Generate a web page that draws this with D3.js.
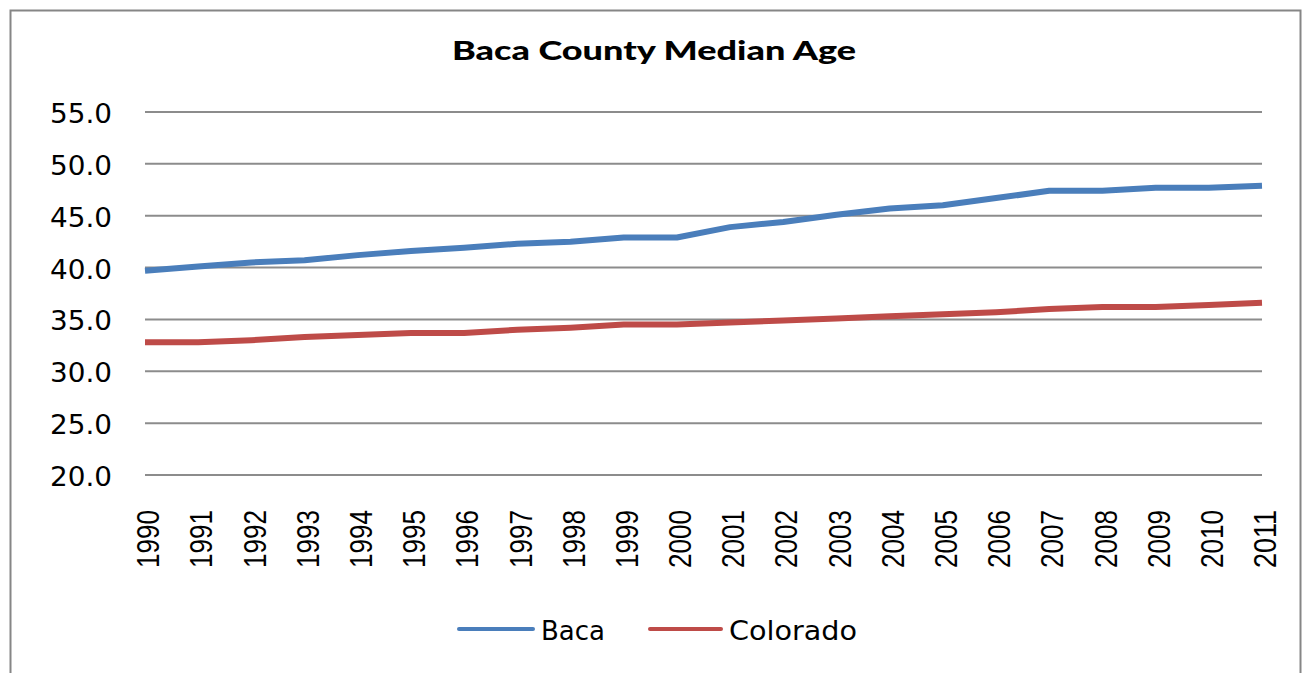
<!DOCTYPE html>
<html>
<head>
<meta charset="utf-8">
<script src="https://cdn.jsdelivr.net/npm/d3@7"></script>
<style>
  body { margin: 0; background: #fff; }
  svg { display: block; }
</style>
</head>
<body>
<script>
const years = ["1990","1991","1992","1993","1994","1995","1996","1997","1998","1999","2000",
               "2001","2002","2003","2004","2005","2006","2007","2008","2009","2010","2011"];
const baca = [39.7, 40.1, 40.5, 40.7, 41.2, 41.6, 41.9, 42.3, 42.5, 42.9, 42.9,
              43.9, 44.4, 45.1, 45.7, 46.0, 46.7, 47.4, 47.4, 47.7, 47.7, 47.9];
const colorado = [32.8, 32.8, 33.0, 33.3, 33.5, 33.7, 33.7, 34.0, 34.2, 34.5, 34.5,
                  34.7, 34.9, 35.1, 35.3, 35.5, 35.7, 36.0, 36.2, 36.2, 36.4, 36.6];
const yTicks = [20, 25, 30, 35, 40, 45, 50, 55];
const seriesNames = ["Baca", "Colorado"];

const w = 1305, h = 673;
const margin = ({top: 112, right: 43, bottom: 198, left: 145});

const svg = d3.select("body")
    .append("svg")
    .attr("width", w)
    .attr("height", h);

// outer chart border
svg.append("rect")
    .attr("x", 10.5)
    .attr("y", 10.5)
    .attr("width", 1290)
    .attr("height", 720)
    .attr("fill", "none")
    .attr("stroke", "#868686")
    .attr("stroke-width", 2);

let x = d3.scalePoint()
    .domain(years)
    .range([margin.left, w - margin.right]);

let y = d3.scaleLinear()
    .domain([20, 55])
    .range([h - margin.bottom, margin.top]);

// gridlines
svg.append("g")
    .selectAll("line")
    .data(yTicks)
    .enter().append("line")
    .attr("x1", margin.left)
    .attr("x2", w - margin.right)
    .attr("y1", d => y(d))
    .attr("y2", d => y(d))
    .attr("stroke", "#8c8c8c")
    .attr("stroke-width", 2);

// y labels
svg.append("g")
    .selectAll("text")
    .data(yTicks)
    .enter().append("text")
    .attr("x", 112)
    .attr("y", d => y(d) + 11)
    .attr("text-anchor", "end")
    .attr("font-family", "DejaVu Sans")
    .attr("font-size", 27)
    .attr("fill", "#000")
    .attr("textLength", 62)
    .attr("lengthAdjust", "spacingAndGlyphs")
    .text(d => d3.format(".1f")(d));

// x labels (rotated)
svg.append("g")
    .selectAll("text")
    .data(years)
    .enter().append("text")
    .attr("transform", d => `translate(${x(d) + 3}, 510) rotate(-90)`)
    .attr("text-anchor", "end")
    .attr("dy", "0.36em")
    .attr("font-family", "Liberation Sans")
    .attr("font-size", 31)
    .attr("fill", "#000")
    .attr("textLength", 58)
    .attr("lengthAdjust", "spacingAndGlyphs")
    .text(d => d);

let line = d3.line()
    .x((d, i) => x(years[i]))
    .y(d => y(d));

const colors = ["#4a7ebb", "#be4b48"];

[baca, colorado].forEach(function(s, k) {
    svg.append("path")
        .datum(s)
        .attr("d", line)
        .attr("fill", "none")
        .attr("stroke", colors[k])
        .attr("stroke-width", 6)
        .attr("stroke-linejoin", "round");
});

// title
svg.append("text")
    .attr("x", 654)
    .attr("y", 60)
    .attr("text-anchor", "middle")
    .attr("font-family", "Lato")
    .attr("font-weight", "900")
    .attr("font-size", 26)
    .attr("fill", "#000")
    .attr("textLength", 404)
    .attr("lengthAdjust", "spacingAndGlyphs")
    .text("Baca County Median Age");

// legend
const legendX = [[459, 533, 541, 64], [650, 721, 729, 128]];
seriesNames.forEach(function(name, k) {
    const lx = legendX[k];
    svg.append("line")
        .attr("x1", lx[0])
        .attr("x2", lx[1])
        .attr("y1", 629)
        .attr("y2", 629)
        .attr("stroke", colors[k])
        .attr("stroke-width", 4)
        .attr("stroke-linecap", "round");
    svg.append("text")
        .attr("x", lx[2])
        .attr("y", 640)
        .attr("font-family", "DejaVu Sans")
        .attr("font-size", 26)
        .attr("fill", "#000")
        .attr("textLength", lx[3])
        .attr("lengthAdjust", "spacingAndGlyphs")
        .text(name);
});
</script>
</body>
</html>
